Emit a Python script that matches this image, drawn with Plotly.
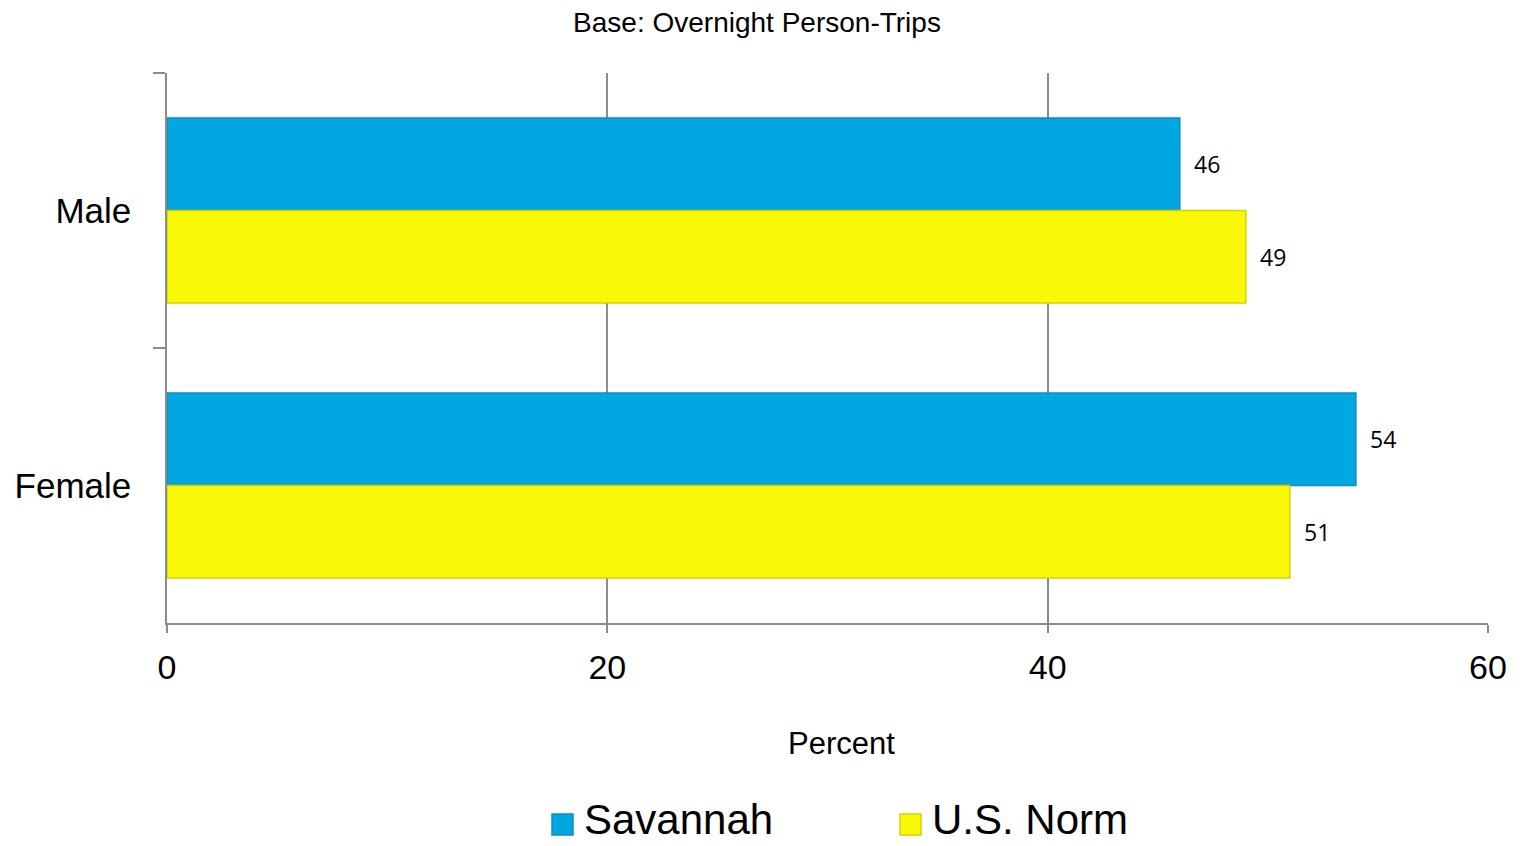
import plotly.graph_objects as go

# --- data ---
categories = ["Male", "Female"]
series_names = ["Savannah", "U.S. Norm"]
savannah = [46, 54]
us_norm = [49, 51]
x_ticks = [0, 20, 40, 60]

colors = ["#02A7E1", "#F8F807"]
edge_colors = ["#0A8FC0", "#D2D200"]
values = [savannah, us_norm]

# --- layout constants (pixels) ---
W, H = 1520, 846
M_L, M_R, M_T, M_B = 167, 32, 73, 223
PLOT_W = W - M_L - M_R
PLOT_H = H - M_T - M_B
BARGAP = 0.327
GRID = "#8C8C8C"
SANS = "Liberation Sans, Arial, sans-serif"


def px_x(px):
    """Horizontal pixel position -> paper coordinate."""
    return (px - M_L) / PLOT_W


def px_y(py):
    """Vertical pixel position (from top) -> paper coordinate."""
    return (M_T + PLOT_H - py) / PLOT_H


fig = go.Figure()
for name, vals, col, edge in zip(series_names, values, colors, edge_colors):
    fig.add_trace(go.Bar(
        y=categories, x=vals, name=name, orientation="h",
        marker=dict(color=col, line=dict(color=edge, width=1.5)),
        showlegend=False, hoverinfo="x+name",
    ))

# value labels to the right of each bar
half = (1 - BARGAP) / 2
n = len(series_names)
annotations = []
for si, vals in enumerate(values):
    offset = -half + half * (2 * si + 1) / n
    for ci, v in enumerate(vals):
        annotations.append(dict(
            x=v, y=ci + offset, xref="x", yref="y",
            text=str(v), showarrow=False, xanchor="left", yanchor="middle",
            xshift=12, font=dict(family="Open Sans, Liberation Sans, sans-serif",
                                 size=23, color="#000000"),
        ))

# axis title
annotations.append(dict(
    x=px_x(841), y=px_y(743), xref="paper", yref="paper",
    text="Percent", showarrow=False, xanchor="center", yanchor="middle",
    font=dict(family=SANS, size=31, color="#000000"),
))

# legend: colour swatches + names
legend_x = [552, 900]
shapes = []
for name, col, edge, lx in zip(series_names, colors, edge_colors, legend_x):
    shapes.append(dict(
        type="rect", xref="paper", yref="paper",
        x0=px_x(lx), x1=px_x(lx + 21), y0=px_y(835), y1=px_y(814),
        fillcolor=col, line=dict(color=edge, width=1.5), layer="above",
    ))
    annotations.append(dict(
        x=px_x(lx + 30), y=px_y(819), xref="paper", yref="paper",
        text=name, showarrow=False, xanchor="left", yanchor="middle",
        font=dict(family=SANS, size=42, color="#000000"),
    ))

fig.update_layout(
    width=W, height=H,
    margin=dict(l=M_L, r=M_R, t=M_T, b=M_B, pad=0, autoexpand=False),
    paper_bgcolor="white", plot_bgcolor="white",
    barmode="group", bargap=BARGAP, bargroupgap=0,
    title=dict(
        text="Base: Overnight Person-Trips", x=757 / W, xanchor="center",
        y=1 - 22 / H, yanchor="middle", yref="container",
        font=dict(family=SANS, size=28, color="#000000"),
    ),
    xaxis=dict(
        range=[0, 60], tickvals=x_ticks, ticktext=[str(t) for t in x_ticks],
        showgrid=True, gridcolor=GRID, gridwidth=1.5,
        showline=True, linecolor=GRID, linewidth=1.5,
        ticks="outside", ticklen=8, tickcolor=GRID, tickwidth=1.5,
        zeroline=False, automargin=False, ticklabelstandoff=5,
        tickfont=dict(family=SANS, size=34, color="#000000"),
    ),
    yaxis=dict(
        type="category", categoryorder="array", categoryarray=categories,
        range=[1.5, -0.5],
        showgrid=False, showline=True, linecolor=GRID, linewidth=1.5,
        ticks="outside", tickson="boundaries", ticklen=12, tickcolor=GRID, tickwidth=1.5,
        ticklabelstandoff=27, automargin=False,
        tickfont=dict(family="Liberation Sans Narrow, Arial Narrow, Liberation Sans, sans-serif",
                      size=35, color="#000000"),
    ),
    annotations=annotations,
    shapes=shapes,
)

fig.write_html("out.html")
